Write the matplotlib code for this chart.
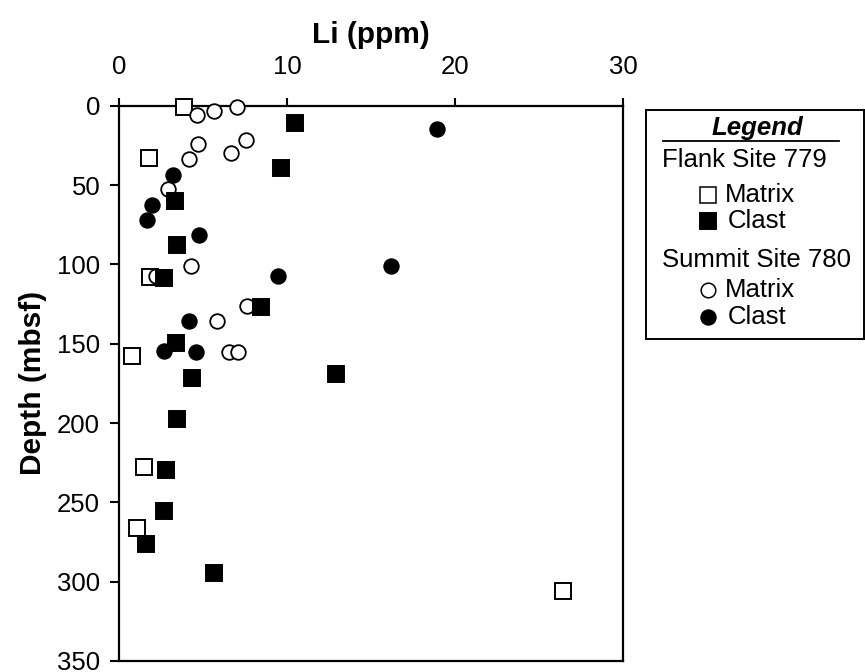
#!/usr/bin/env python3

import matplotlib
matplotlib.use("Agg")
import matplotlib.pyplot as plt

plt.rcParams["font.family"] = ["Liberation Sans", "DejaVu Sans"]

# Flank Site 779
flank_matrix_li = [3.87, 1.80, 1.85, 0.75, 1.49, 1.05, 26.4]
flank_matrix_depth = [1.0, 33.2, 107.8, 157.6, 227.6, 266.0, 306.0]

flank_clast_li = [10.48, 9.64, 3.33, 3.45, 2.70, 8.43, 3.37, 4.37, 12.9,
                  3.45, 2.80, 2.70, 1.61, 5.64]
flank_clast_depth = [10.7, 39.5, 59.9, 87.8, 108.8, 126.7, 149.4, 171.9,
                     169.4, 197.4, 229.3, 255.4, 276.4, 294.6]

# Summit Site 780
summit_matrix_li = [4.62, 5.65, 7.04, 4.68, 7.54, 6.65, 4.19, 2.94, 4.29,
                    2.20, 7.60, 5.85, 6.55, 7.10]
summit_matrix_depth = [5.9, 3.4, 0.6, 24.2, 21.6, 29.6, 33.8, 52.5, 100.9,
                       107.2, 126.1, 135.6, 155.5, 155.5]

summit_clast_li = [18.91, 16.19, 3.23, 1.95, 1.65, 4.74, 9.45, 4.19, 2.70, 4.56]
summit_clast_depth = [14.7, 100.9, 43.7, 62.6, 72.1, 81.5, 107.2, 135.8,
                      154.7, 155.5]

X_TICKS = [0, 10, 20, 30]
Y_TICKS = [0, 50, 100, 150, 200, 250, 300, 350]

W, H = 865, 672


def main():
    fig = plt.figure(figsize=(W / 100, H / 100), dpi=100)
    ax = fig.add_axes([119 / W, 1 - 661 / H, (623 - 119) / W, (661 - 105.7) / H])

    sq = dict(marker="s", markersize=11, markeredgewidth=1.4,
              markeredgecolor="black", linestyle="none", clip_on=False)
    ci = dict(marker="o", markersize=10.5, markeredgewidth=1.3,
              markeredgecolor="black", linestyle="none", clip_on=False)

    ax.plot(flank_matrix_li, flank_matrix_depth, markerfacecolor="white", zorder=3, **sq)
    ax.plot(summit_matrix_li, summit_matrix_depth, markerfacecolor="white", zorder=4, **ci)
    ax.plot(summit_clast_li, summit_clast_depth, markerfacecolor="black", zorder=5, **ci)
    ax.plot(flank_clast_li, flank_clast_depth, markerfacecolor="black", zorder=6, **sq)

    ax.set_xlim(0, 30)
    ax.set_ylim(350, 0)
    ax.set_xticks(X_TICKS)
    ax.set_yticks(Y_TICKS)
    ax.xaxis.tick_top()
    ax.xaxis.set_label_position("top")
    ax.tick_params(axis="x", direction="out", length=6, width=1.5, pad=13,
                   labelsize=18.5)
    ax.tick_params(axis="y", direction="out", length=6.5, width=1.5, pad=7,
                   labelsize=18.5)
    for s in ax.spines.values():
        s.set_linewidth(1.6)

    ax.set_xlabel("Li (ppm)", fontsize=21.5, fontweight="bold", labelpad=9)
    ax.set_ylabel("Depth (mbsf)", fontsize=21.5, fontweight="bold", labelpad=7)

    # legend box drawn in pixel units
    lx0, ly0, lx1, ly1 = 646, 110, 864, 339
    lg = fig.add_axes([lx0 / W, 1 - ly1 / H, (lx1 - lx0) / W, (ly1 - ly0) / H])
    lg.set_xlim(lx0, lx1)
    lg.set_ylim(ly1, ly0)
    lg.set_xticks([])
    lg.set_yticks([])
    for s in lg.spines.values():
        s.set_linewidth(1.4)

    fs = 18.5
    lg.text(757, 128, "Legend", fontsize=fs, fontweight="bold", style="italic",
            ha="center", va="center")
    lg.plot([663, 839], [141, 141], color="black", linewidth=1.3)
    lg.text(662, 160, "Flank Site 779", fontsize=fs, ha="left", va="center")
    lg.plot([708], [195], markerfacecolor="white", **dict(sq, markersize=11, markeredgewidth=1.1))
    lg.text(725, 195, "Matrix", fontsize=fs, ha="left", va="center")
    lg.plot([708], [221], markerfacecolor="black", **dict(sq, markersize=11))
    lg.text(728, 221, "Clast", fontsize=fs, ha="left", va="center")
    lg.text(662, 260, "Summit Site 780", fontsize=fs, ha="left", va="center")
    lg.plot([708], [290], markerfacecolor="white", **dict(ci, markersize=10.5, markeredgewidth=1.1))
    lg.text(725, 290, "Matrix", fontsize=fs, ha="left", va="center")
    lg.plot([708], [317], markerfacecolor="black", **dict(ci, markersize=10.5))
    lg.text(728, 317, "Clast", fontsize=fs, ha="left", va="center")

    fig.savefig("out.png", dpi=100)


if __name__ == "__main__":
    main()
